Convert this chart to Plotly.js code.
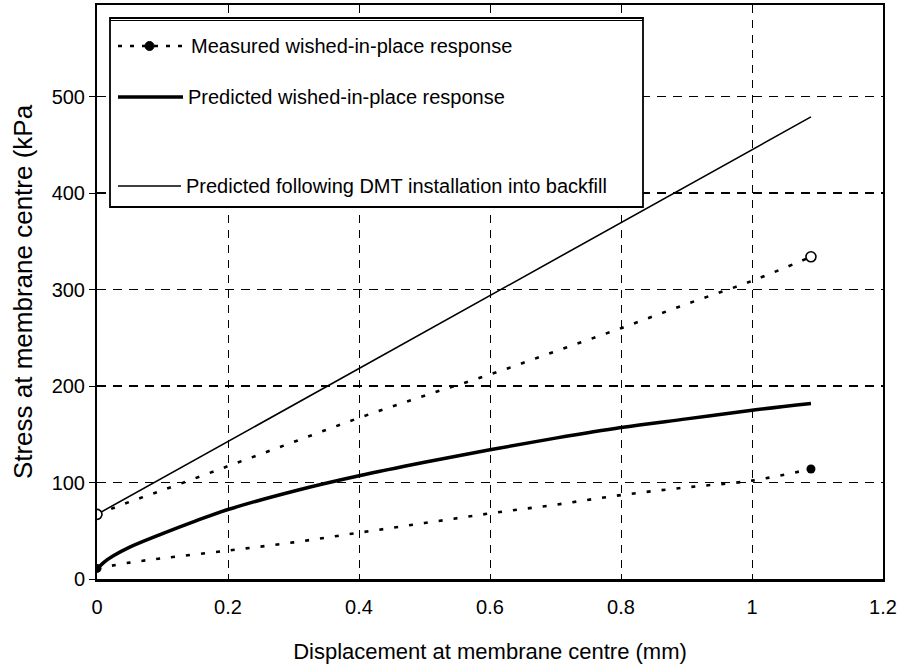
<!DOCTYPE html>
<html>
<head>
<meta charset="utf-8">
<script src="https://cdn.plot.ly/plotly-3.0.1.min.js"></script>
<style>
  html, body { margin: 0; padding: 0; background: #fff; }
  #chart { width: 904px; height: 666px; }
</style>
</head>
<body>
<div id="chart"></div>
<script>
// ---- data ----
const xMeasured = [0, 0.05, 0.1, 0.2, 0.3, 0.4, 0.5, 0.6, 0.7, 0.8, 0.9, 1.0, 1.09];
const measuredWished = [11, 17, 21.5, 29.5, 38, 48, 58, 68, 77, 87, 95, 102, 114];
const measuredInstalled = [67, 80, 92, 117, 142, 167, 190, 212, 236, 260, 285, 309, 334];

const xPredicted = [0, 0.01, 0.025, 0.05, 0.1, 0.15, 0.2, 0.3, 0.4, 0.5, 0.6, 0.7, 0.8, 0.9, 1.0, 1.09];
const predictedWished = [10, 17, 24, 33, 47, 60, 72, 91, 107, 121, 134, 146, 157, 166, 175, 182];

const xInstalled = [0, 1.09];
const predictedInstalled = [67, 479];

const legendLabels = [
  "Measured wished-in-place response",
  "Predicted wished-in-place response",
  "Predicted following DMT installation into backfill"
];
const xTitle = "Displacement at membrane centre (mm)";
const yTitle = "Stress at membrane centre (kPa";

// ---- helpers ----
const FONT = "Liberation Sans, Arial, sans-serif";
const ends = a => [a[0], a[a.length - 1]];
const dotted = "4px,11px";

const traces = [
  { x: xPredicted, y: predictedWished, mode: "lines", line: { color: "#000", width: 3.5, shape: "spline", smoothing: 1 }, showlegend: false, hoverinfo: "skip" },
  { x: xInstalled, y: predictedInstalled, mode: "lines", line: { color: "#000", width: 1.6 }, showlegend: false, hoverinfo: "skip" },
  { x: xMeasured, y: measuredWished, mode: "lines", line: { color: "#000", width: 2.6, dash: dotted, shape: "spline" }, showlegend: false, hoverinfo: "skip" },
  { x: xMeasured, y: measuredInstalled, mode: "lines", line: { color: "#000", width: 2.6, dash: dotted, shape: "spline" }, showlegend: false, hoverinfo: "skip" },
  { x: ends(xMeasured), y: ends(measuredWished), mode: "markers", marker: { color: "#000", size: 9, symbol: "circle" }, showlegend: false, hoverinfo: "skip" },
  { x: ends(xMeasured), y: ends(measuredInstalled), mode: "markers", marker: { color: "#fff", size: 10, symbol: "circle", line: { color: "#000", width: 1.6 } }, showlegend: false, hoverinfo: "skip" }
];

// legend box drawn in paper units (plot area spans 97..883 px horizontally, 5..579 px vertically)
const PL = 97, PR = 883, PT = 5, PB = 579;
const px = p => (p - PL) / (PR - PL);
const py = p => (PB - p) / (PB - PT);

const shapes = [
  { type: "rect", xref: "paper", yref: "paper", x0: px(110), x1: px(643), y0: py(207), y1: py(18), line: { color: "#000", width: 1.8 }, fillcolor: "#fff", layer: "above" },
  { type: "line", xref: "paper", yref: "paper", x0: px(110), x1: px(643), y0: py(20.5), y1: py(20.5), line: { color: "#000", width: 1 }, layer: "above" },
  { type: "line", xref: "paper", yref: "paper", x0: px(118), x1: px(184), y0: py(46), y1: py(46), line: { color: "#000", width: 2.6, dash: "4px,8px" }, layer: "above" },
  { type: "circle", xref: "paper", yref: "paper", x0: px(145), x1: px(154), y0: py(50.5), y1: py(41.5), line: { color: "#000", width: 1 }, fillcolor: "#000", layer: "above" },
  { type: "line", xref: "paper", yref: "paper", x0: px(118), x1: px(183), y0: py(97), y1: py(97), line: { color: "#000", width: 3.5 }, layer: "above" },
  { type: "line", xref: "paper", yref: "paper", x0: px(118), x1: px(181), y0: py(186), y1: py(186), line: { color: "#000", width: 1.6 }, layer: "above" }
];

const annFont = { family: FONT, size: 20, color: "#000" };
const annotations = [
  { xref: "paper", yref: "paper", x: px(189), y: py(46), xanchor: "left", yanchor: "middle", text: legendLabels[0], showarrow: false, font: annFont },
  { xref: "paper", yref: "paper", x: px(186), y: py(97), xanchor: "left", yanchor: "middle", text: legendLabels[1], showarrow: false, font: annFont },
  { xref: "paper", yref: "paper", x: px(184), y: py(186), xanchor: "left", yanchor: "middle", text: legendLabels[2], showarrow: false, font: annFont }
];

const layout = {
  width: 904, height: 666,
  margin: { l: PL, r: 904 - PR, t: PT, b: 666 - PB },
  paper_bgcolor: "#fff", plot_bgcolor: "#fff",
  font: { family: FONT, color: "#000", size: 20 },
  showlegend: false,
  xaxis: {
    range: [0, 1.2], dtick: 0.2, tick0: 0,
    showgrid: true, gridcolor: "#000", gridwidth: 1, griddash: "8px,7px",
    zeroline: false,
    showline: true, linecolor: "#000", linewidth: 2.5, mirror: true,
    ticks: "inside", ticklen: 5, tickcolor: "#000",
    ticklabelstandoff: 8,
    tickfont: { family: FONT, size: 20 },
    title: { text: xTitle, font: { family: FONT, size: 22 }, standoff: 27 }
  },
  yaxis: {
    range: [0, 595], dtick: 100, tick0: 0,
    showgrid: true, gridcolor: "#000", gridwidth: 1.3, griddash: "9px,7px",
    zeroline: false,
    showline: true, linecolor: "#000", linewidth: 2, mirror: true,
    ticks: "outside", ticklen: 6, tickcolor: "#000",
    tickfont: { family: FONT, size: 20 },
    title: { text: yTitle, font: { family: FONT, size: 26 }, standoff: 12 }
  },
  shapes: shapes,
  annotations: annotations
};

Plotly.newPlot("chart", traces, layout, { staticPlot: true, displayModeBar: false });
</script>
</body>
</html>
